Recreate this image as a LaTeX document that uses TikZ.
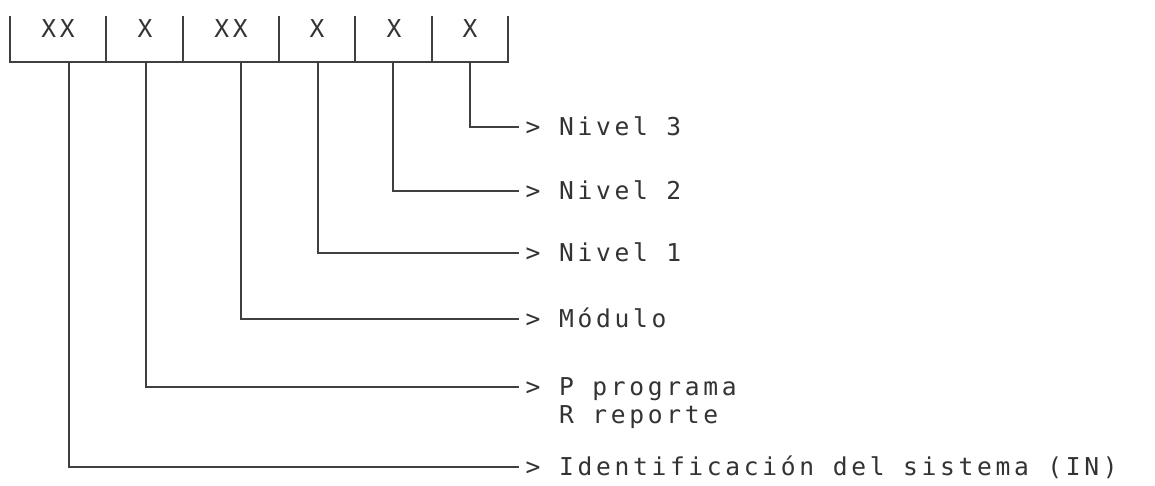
\documentclass[tikz,border=0pt]{standalone}
\usepackage{fontspec}
\newfontfamily\maquina[LetterSpace=15]{DejaVu Sans Mono}
\usetikzlibrary{positioning}

\begin{document}
\begin{tikzpicture}[x=0.02cm,y=-0.02cm,line width=0.8pt,
  campo/.style={font=\maquina\fontsize{14}{17}\selectfont,text=black!80,inner sep=0pt,text height=10.2pt,text depth=0pt},
  etiqueta/.style={campo,anchor=west},
  linea/.style={draw=black!75}]
\useasboundingbox (0,0) rectangle (1155,486);

  %%%%%%% CASILLAS
  \draw[linea] (10,16) -- (10,62) -- (508,62) -- (508,16);
  \foreach \x in {106,183,279,355,432}
    \draw[linea] (\x,16) -- (\x,62);
  \node[campo] (c1) at (58,29) {XX};
  \node[campo] (c2) at (145,29) {X};
  \node[campo] (c3) at (231,29) {XX};
  \node[campo] (c4) at (317,29) {X};
  \node[campo] (c5) at (394,29) {X};
  \node[campo] (c6) at (470,29) {X};

  %%%%%%% SALIDAS
  \coordinate (s1) at (69,62);
  \coordinate (s2) at (146,62);
  \coordinate (s3) at (241,62);
  \coordinate (s4) at (318,62);
  \coordinate (s5) at (393,62);
  \coordinate (s6) at (470,62);

  \node[etiqueta] (niv3) at (525,127) {> Nivel 3};
  \node[etiqueta] (niv2) at (525,191) {> Nivel 2};
  \node[etiqueta] (niv1) at (525,253) {> Nivel 1};
  \node[etiqueta] (modu) at (525,319) {> Módulo};
  \node[etiqueta] (prog) at (525,387) {> P programa};
  \node[etiqueta] (repo) at (525,415) {\hphantom{> }R reporte};
  \node[etiqueta] (iden) at (525,467) {> Identificación del sistema (IN)};

  \draw[linea,shorten >=3.5pt] (s6) |- (niv3.west);
  \draw[linea,shorten >=3.5pt] (s5) |- (niv2.west);
  \draw[linea,shorten >=3.5pt] (s4) |- (niv1.west);
  \draw[linea,shorten >=3.5pt] (s3) |- (modu.west);
  \draw[linea,shorten >=3.5pt] (s2) |- (prog.west);
  \draw[linea,shorten >=3.5pt] (s1) |- (iden.west);
\end{tikzpicture}
\end{document}
